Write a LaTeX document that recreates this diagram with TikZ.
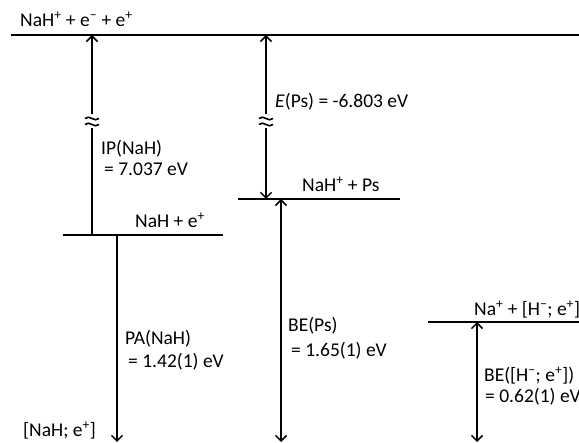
\documentclass[tikz,border=0pt]{standalone}
\usepackage{fontspec}
\setmainfont{Carlito}
\usetikzlibrary{arrows.meta}
\begin{document}
\begin{tikzpicture}[x=1pt,y=-1pt,
  level/.style={line width=1.8pt},
  tip/.tip={Straight Barb[length=5.5pt,width=11pt,line width=1.5pt]},
  arr/.style={line width=1.8pt,-tip},
  darr/.style={line width=1.8pt,tip-tip},
  lbl/.style={anchor=base west,inner sep=0pt,font=\fontsize{19.5}{22}\selectfont},
  wave/.style={line width=1.6pt}]
\useasboundingbox (0,0) rectangle (579,443);
\clip (0,0) rectangle (579,443);
% levels
\draw[level] (11,35) coordinate (top0) -- (579,35) coordinate (top1);
\draw[level] (63,235) coordinate (nah0) -- (223,235) coordinate (nah1);
\draw[level] (238,199) coordinate (ps0) -- (400,199) coordinate (ps1);
\draw[level] (428,322) coordinate (na0) -- (579,322) coordinate (na1);
% arrow endpoints
\coordinate (ipT) at (92,35);  \coordinate (ipB) at (92,235);
\coordinate (paT) at (117,235); \coordinate (paB) at (117,442);
\coordinate (eT) at (266,35);  \coordinate (eB) at (266,199);
\coordinate (bT) at (281,199); \coordinate (bB) at (281,442);
\coordinate (hT) at (477,322); \coordinate (hB) at (477,442);
% arrows
\draw[arr] (ipB) -- (ipT);
\draw[arr] (paT) -- (paB);
\draw[darr] (eT) -- (eB);
\draw[darr] (bT) -- (bB);
\draw[darr] (hT) -- (hB);
% breaks
\foreach \bx/\nm in {92/br1,266/br2}{
  \fill[white] (\bx-8,114) rectangle (\bx+8,128);
  \coordinate (\nm) at (\bx,121);
  \draw[wave] ([shift={(-7,-2.5)}]\nm) .. controls ([shift={(-3,-7)}]\nm) and ([shift={(3,2)}]\nm) .. ([shift={(7,-2.5)}]\nm);
  \draw[wave] ([shift={(-7,3.5)}]\nm) .. controls ([shift={(-3,-1)}]\nm) and ([shift={(3,8)}]\nm) .. ([shift={(7,3.5)}]\nm);
}
% labels
\node[lbl] (l0) at (20,27) {NaH\textsuperscript{+} + e\textsuperscript{−} + e\textsuperscript{+}};
\node[lbl] (l1) at (101,155) {IP(NaH)};
\node[lbl] (l2) at (104,176) {= 7.037 eV};
\node[lbl] (l3) at (135,228) {NaH + e\textsuperscript{+}};
\node[lbl] (l4) at (275,108) {\textit{E}(Ps) = -6.803 eV};
\node[lbl] (l5) at (302,192) {NaH\textsuperscript{+} + Ps};
\node[lbl] (l6) at (125,345) {PA(NaH)};
\node[lbl] (l7) at (128,368) {= 1.42(1) eV};
\node[lbl] (l8) at (23,437) {[NaH; e\textsuperscript{+}]};
\node[lbl] (l9) at (288,332) {BE(Ps)};
\node[lbl] (l10) at (291,357) {= 1.65(1) eV};
\node[lbl] (l11) at (474,316) {Na\textsuperscript{+} + [H\textsuperscript{−}; e\textsuperscript{+}]};
\node[lbl] (l12) at (484,382) {BE([H\textsuperscript{−}; e\textsuperscript{+}])};
\node[lbl] (l13) at (485,403) {= 0.62(1) eV};
\end{tikzpicture}
\end{document}
